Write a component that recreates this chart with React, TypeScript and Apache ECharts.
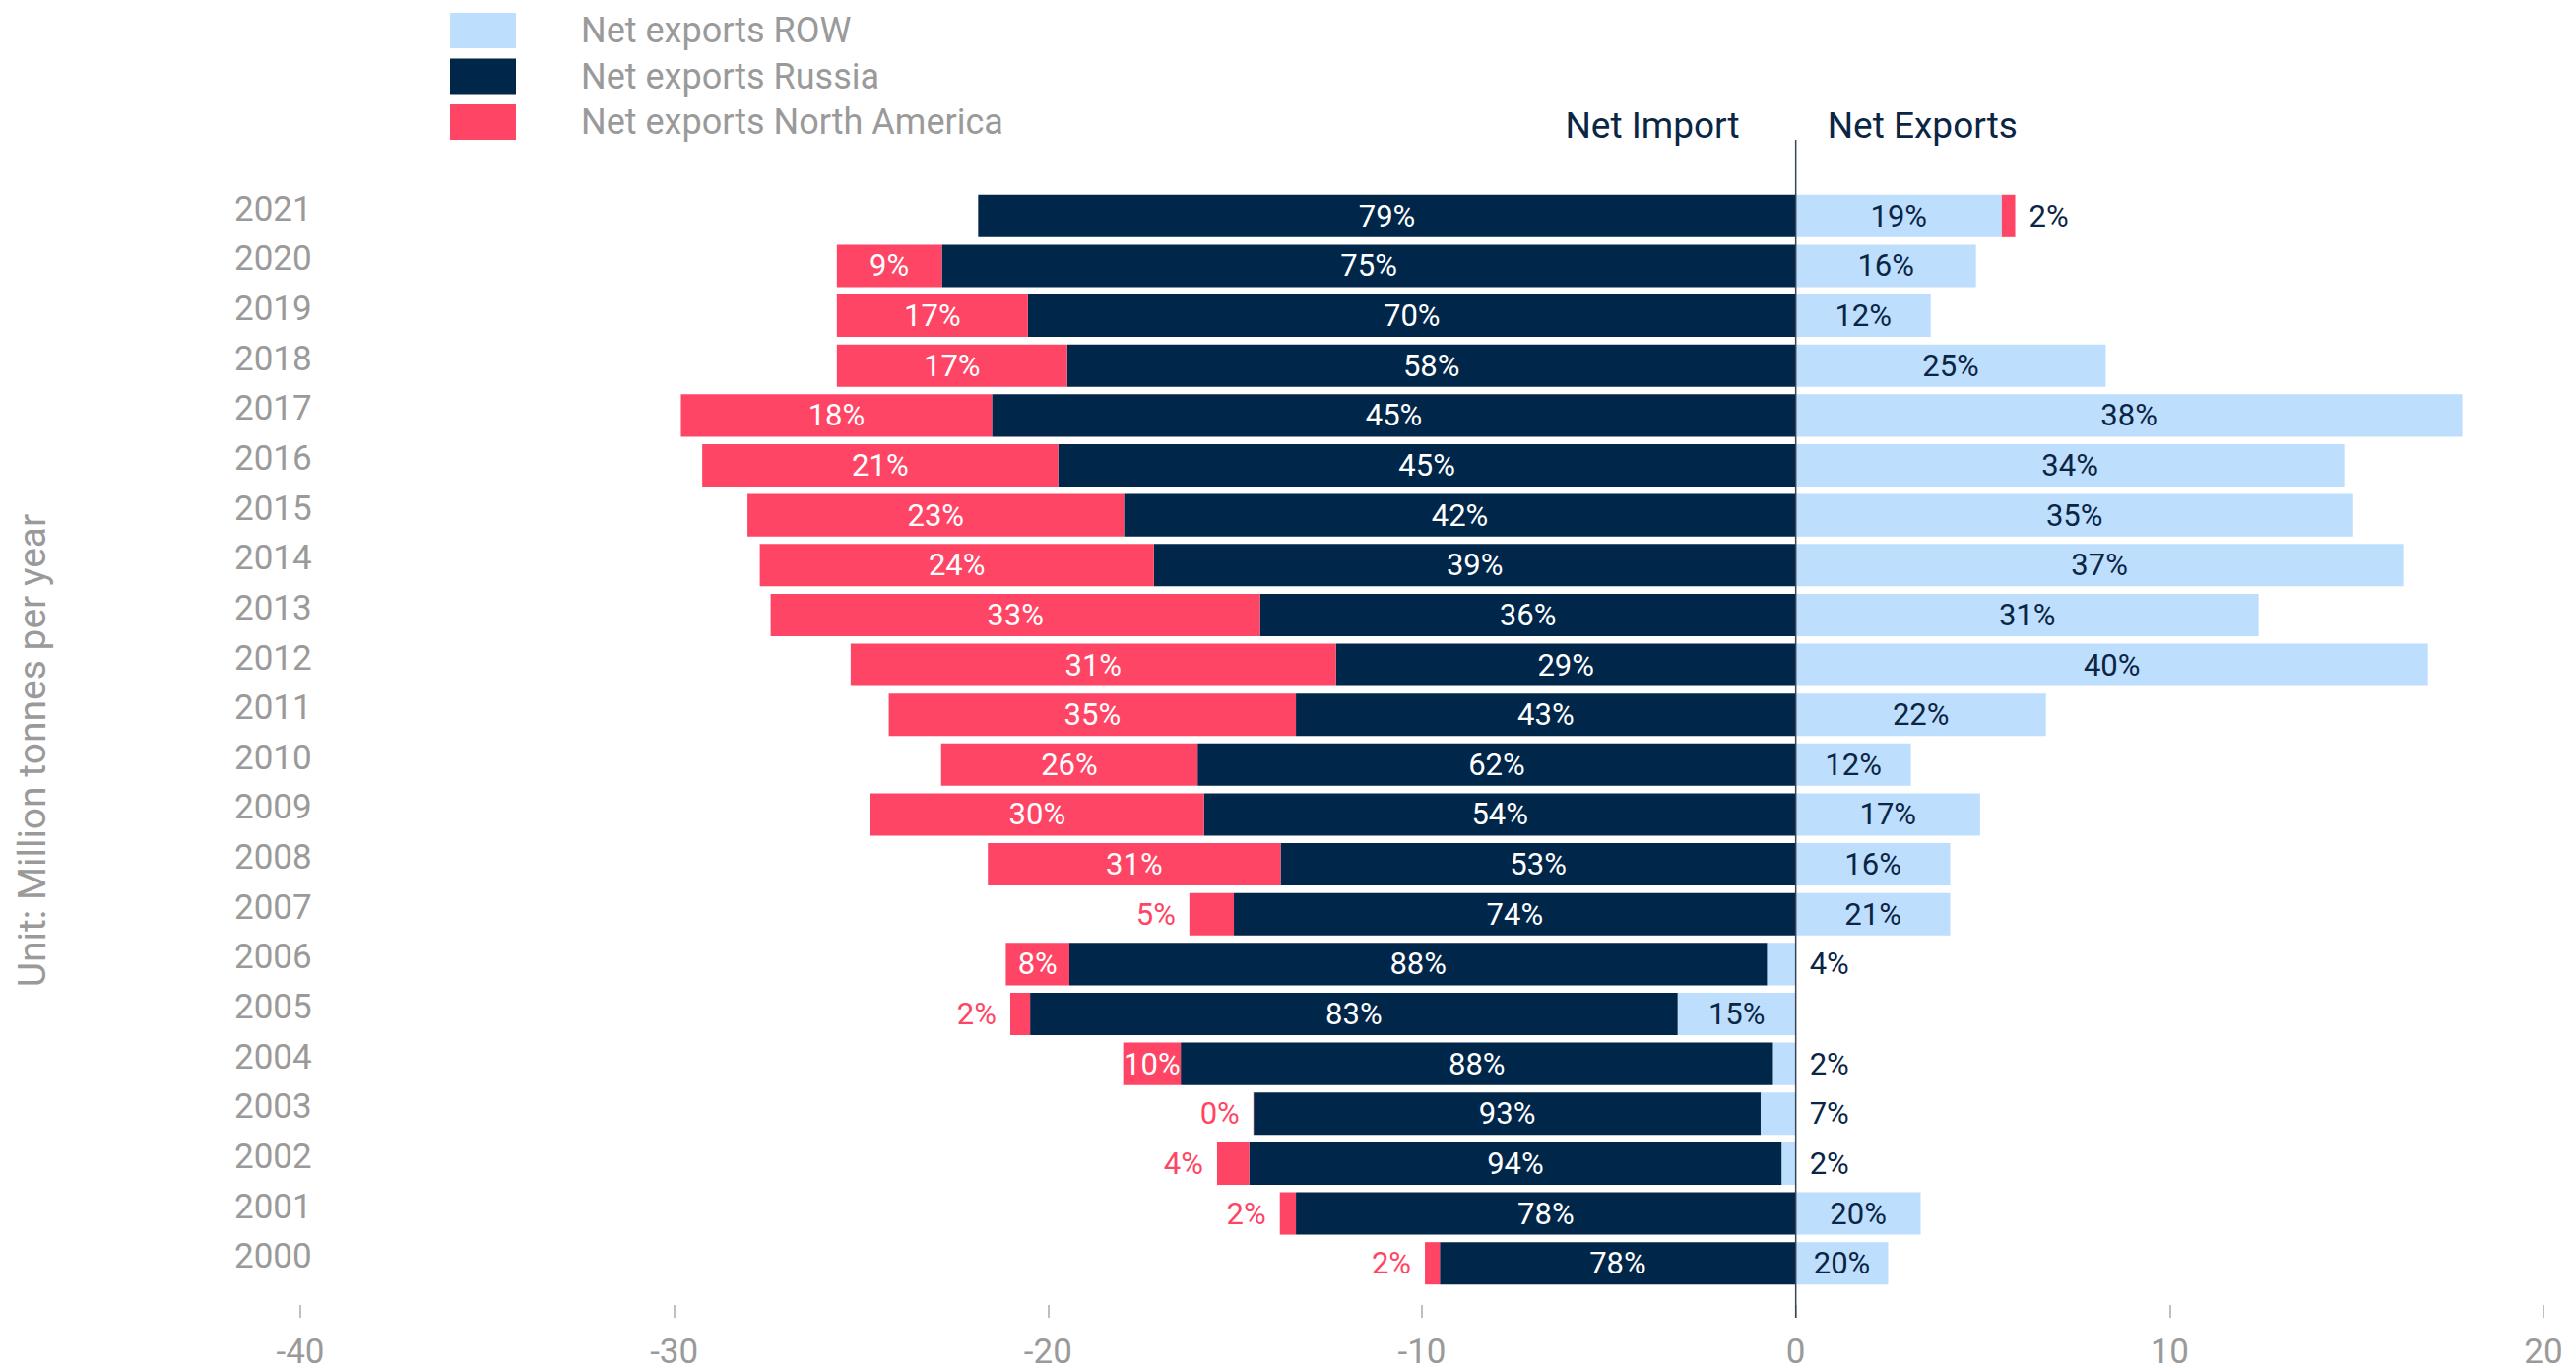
import React, { useEffect, useRef } from 'react';
import * as echarts from 'echarts';

const years = ['2000', '2001', '2002', '2003', '2004', '2005', '2006', '2007', '2008', '2009', '2010', '2011', '2012', '2013', '2014', '2015', '2016', '2017', '2018', '2019', '2020', '2021'];

const rowValues = [2.47, 3.34, -0.38, -0.94, -0.61, -3.16, -0.77, 4.13, 4.13, 4.93, 3.08, 6.69, 16.91, 12.38, 16.25, 14.91, 14.67, 17.83, 8.29, 3.61, 4.82, 5.51];
const russiaValues = [-9.52, -13.37, -14.24, -13.56, -15.84, -17.32, -18.66, -15.03, -13.78, -15.83, -16.0, -13.37, -12.3, -14.33, -17.17, -17.97, -19.73, -21.5, -19.49, -20.54, -22.84, -21.87];
const naValues = [-0.4, -0.43, -0.86, -0.01, -1.54, -0.53, -1.7, -1.19, -7.83, -8.92, -6.86, -10.89, -12.98, -13.09, -10.54, -10.07, -9.52, -8.32, -6.16, -5.11, -2.81, 0.36];

const rowLabels = ['20%', '20%', '2%', '7%', '2%', '15%', '4%', '21%', '16%', '17%', '12%', '22%', '40%', '31%', '37%', '35%', '34%', '38%', '25%', '12%', '16%', '19%'];
const russiaLabels = ['78%', '78%', '94%', '93%', '88%', '83%', '88%', '74%', '53%', '54%', '62%', '43%', '29%', '36%', '39%', '42%', '45%', '45%', '58%', '70%', '75%', '79%'];
const naLabels = ['2%', '2%', '4%', '0%', '10%', '2%', '8%', '5%', '31%', '30%', '26%', '35%', '31%', '33%', '24%', '23%', '21%', '18%', '17%', '17%', '9%', '2%'];

const xTickMin = -40;
const xTickMax = 20;
const xTickStep = 10;

const seriesNames = ['Net exports ROW', 'Net exports Russia', 'Net exports North America'];

const C_ROW = '#bddefc';
const C_RUS = '#00264a';
const C_NA = '#ff4565';
const C_TEXT_NAVY = '#0b2545';
const C_GREY = '#9a9a9a';
const FONT = 'Roboto';

type Kind = 'row' | 'rus' | 'na';

function buildData(values: number[], kind: Kind) {
  return values.map((v) => {
    const outside = Math.abs(v) < 1.3;
    let position: string = 'inside';
    let color = kind === 'row' ? C_TEXT_NAVY : '#ffffff';
    if (outside) {
      if (kind === 'row') {
        position = 'right';
        color = C_TEXT_NAVY;
      } else if (kind === 'na') {
        position = v < 0 ? 'left' : 'right';
        color = v < 0 ? C_NA : C_TEXT_NAVY;
      } else {
        position = v < 0 ? 'left' : 'right';
        color = C_TEXT_NAVY;
      }
    }
    return { value: v, label: { position, color, distance: 14 } };
  });
}

function makeSeries(name: string, values: number[], labels: string[], color: string, kind: Kind) {
  return {
    type: 'bar',
    name,
    stack: 'total',
    barCategoryGap: '15%',
    itemStyle: { color },
    label: {
      show: true,
      fontSize: 31,
      fontFamily: FONT,
      formatter: (p: any) => labels[p.dataIndex],
    },
    labelLayout: { hideOverlap: false },
    data: buildData(values, kind),
  };
}

export default function App() {
  const ref = useRef<HTMLDivElement>(null);

  useEffect(() => {
    document.body.style.margin = '0';
    if (!ref.current) return;
    const chart = echarts.init(ref.current, undefined, { renderer: 'svg' });
    chart.setOption({
      animation: false,
      backgroundColor: '#ffffff',
      textStyle: { fontFamily: FONT },
      legend: {
        orient: 'vertical',
        left: 452,
        top: 8,
        itemWidth: 67,
        itemHeight: 36,
        itemGap: 10.5,
        icon: 'rect',
        selectedMode: false,
        data: seriesNames,
        textStyle: { fontSize: 36, color: C_GREY, fontFamily: FONT, padding: [0, 0, 0, 61] },
      },
      grid: { left: 305, right: 33, top: 194, bottom: 84, containLabel: false },
      xAxis: {
        type: 'value',
        min: xTickMin,
        max: xTickMax,
        interval: xTickStep,
        offset: 17,
        axisLine: { show: false, onZero: false },
        axisTick: { show: true, length: 13, lineStyle: { color: '#aaaaaa', width: 1.5 } },
        splitLine: { show: false },
        axisLabel: { color: C_GREY, fontSize: 35, fontFamily: FONT, margin: 30 },
      },
      yAxis: {
        type: 'category',
        data: years,
        axisLine: { show: false, onZero: false },
        axisTick: { show: false },
        axisLabel: {
          align: 'left',
          verticalAlign: 'bottom',
          lineHeight: 14,
          margin: 67,
          color: C_GREY,
          fontSize: 35,
          fontFamily: FONT,
        },
      },
      series: [
        makeSeries(seriesNames[0], rowValues, rowLabels, C_ROW, 'row'),
        makeSeries(seriesNames[1], russiaValues, russiaLabels, C_RUS, 'rus'),
        makeSeries(seriesNames[2], naValues, naLabels, C_NA, 'na'),
      ],
    });

    const x0 = chart.convertToPixel({ xAxisIndex: 0 }, 0) as number;
    const gridTop = 194;
    const gridBottom = 1392 - 84;
    chart.setOption({
      graphic: [
        {
          type: 'line',
          z: 100,
          shape: { x1: x0, y1: gridTop - 52, x2: x0, y2: gridBottom + 30 },
          style: { stroke: '#3a4558', lineWidth: 1.5 },
        },
        {
          type: 'text',
          x: x0 - 57,
          y: 127,
          style: { text: 'Net Import', align: 'right', verticalAlign: 'middle', fontSize: 37, fontFamily: FONT, fill: C_TEXT_NAVY },
        },
        {
          type: 'text',
          x: x0 + 32,
          y: 127,
          style: { text: 'Net Exports', align: 'left', verticalAlign: 'middle', fontSize: 37, fontFamily: FONT, fill: C_TEXT_NAVY },
        },
        {
          type: 'text',
          x: 33,
          y: 762,
          rotation: Math.PI / 2,
          style: { text: 'Unit: Million tonnes per year', align: 'center', verticalAlign: 'middle', fontSize: 39, fontFamily: FONT, fill: C_GREY },
        },
      ],
    });

    return () => chart.dispose();
  }, []);

  return <div ref={ref} style={{ width: 2616, height: 1392 }} />;
}
